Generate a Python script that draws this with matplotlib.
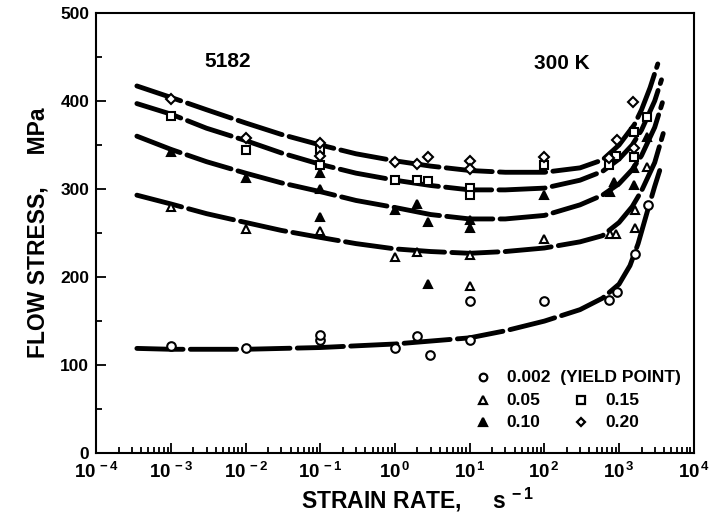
import matplotlib
matplotlib.use("Agg")
import matplotlib.pyplot as plt
from matplotlib.ticker import LogLocator, MultipleLocator, FixedLocator, NullFormatter

plt.rcParams['font.family'] = ['Liberation Sans', 'DejaVu Sans']
plt.rcParams['font.weight'] = 'bold'
plt.rcParams['mathtext.fontset'] = 'custom'
plt.rcParams['mathtext.rm'] = 'Liberation Sans:bold'
plt.rcParams['mathtext.it'] = 'Liberation Sans:bold'
plt.rcParams['mathtext.bf'] = 'Liberation Sans:bold'
plt.rcParams['mathtext.default'] = 'rm'

# ---------------- data ----------------
# measured points
circ_x = [1e-3, 1e-2, 1e-1, 1e-1, 1.0, 2.0, 2.9, 10, 10, 100, 730, 930, 1620, 2430]
circ_y = [122, 119, 129, 134, 120, 133, 111, 129, 173, 173, 174, 183, 226, 282]

tri05_x = [1e-3, 1e-2, 1e-1, 1.0, 2.0, 10, 10, 100, 750, 900, 1620, 1620, 2400]
tri05_y = [280, 255, 252, 223, 228, 225, 190, 243, 249, 249, 276, 256, 325]

tri10_x = [1e-3, 1e-2, 1e-1, 1e-1, 1e-1, 1.0, 2.0, 2.8, 2.8, 10, 10, 100, 750, 850, 1600, 1600, 2400]
tri10_y = [342, 312, 300, 318, 268, 276, 283, 192, 262, 265, 256, 293, 297, 308, 305, 324, 359]

sq_x = [1e-3, 1e-2, 1e-1, 1e-1, 1.0, 2.0, 2.8, 10, 10, 100, 730, 900, 1600, 1600, 2400]
sq_y = [383, 344, 345, 327, 310, 310, 309, 301, 293, 327, 327, 338, 336, 365, 382]

dia_x = [1e-3, 1e-2, 1e-1, 1e-1, 1.0, 2.0, 2.8, 10, 10, 100, 730, 930, 1550, 1600]
dia_y = [402, 358, 352, 338, 331, 328, 336, 332, 323, 336, 335, 356, 399, 347]

# fitted curves
c002_x = [3.5e-4, 1e-3, 1e-2, 1e-1, 1, 10, 30, 100, 300, 600, 1000, 1400, 1800, 2400, 3000, 3500]
c002_y = [119, 118, 118, 120, 124, 131, 139, 150, 163, 176, 192, 213, 238, 275, 303, 321]

c05_x = [3.5e-4, 1e-3, 3e-3, 1e-2, 3e-2, 1e-1, 0.3, 1, 3, 10, 30, 100, 300, 600, 1000, 1500, 2000, 3000, 3900]
c05_y = [293, 283, 272, 262, 253, 245, 238, 232, 229, 227, 229, 233, 240, 247, 262, 280, 298, 330, 363]

c10_x = [3.5e-4, 1e-3, 3e-3, 1e-2, 3e-2, 1e-1, 0.3, 1, 3, 10, 30, 100, 300, 600, 1000, 1500, 2000, 3000, 3800]
c10_y = [360, 345, 331, 318, 307, 297, 287, 279, 271, 266, 266, 270, 282, 293, 306, 322, 338, 370, 398]

c15_x = [3.5e-4, 1e-3, 3e-3, 1e-2, 3e-2, 1e-1, 0.3, 1, 3, 10, 30, 100, 300, 600, 1000, 1500, 2000, 3000, 3700]
c15_y = [397, 385, 369, 355, 341, 328, 318, 310, 304, 299, 299, 301, 310, 320, 334, 350, 367, 400, 424]

c20_x = [3.5e-4, 1e-3, 3e-3, 1e-2, 3e-2, 1e-1, 0.3, 1, 3, 10, 30, 100, 300, 600, 1000, 1600, 2000, 2600, 3300]
c20_y = [417, 404, 390, 375, 362, 350, 340, 332, 326, 321, 319, 319, 324, 333, 350, 373, 390, 415, 442]

x_ticks = [1e-4, 1e-3, 1e-2, 1e-1, 1e0, 1e1, 1e2, 1e3, 1e4]
x_tick_labels = [r'10$^{\,-4}$', r'10$^{\,-3}$', r'10$^{\,-2}$', r'10$^{\,-1}$', r'10$^{\,0}$',
                 r'10$^{\,1}$', r'10$^{\,2}$', r'10$^{\,3}$', r'10$^{\,4}$']
y_ticks = [0, 100, 200, 300, 400, 500]

# ---------------- figure ----------------
fig = plt.figure(figsize=(7.13, 5.15), dpi=100)
ax = fig.add_axes([0.135, 0.120, 0.838, 0.855])

line_kw = dict(color='black', lw=3.5, dashes=(9.5, 1.5), dash_capstyle='round', solid_capstyle='round')
for cx, cy in [(c002_x, c002_y), (c05_x, c05_y), (c10_x, c10_y), (c15_x, c15_y), (c20_x, c20_y)]:
    ax.plot(cx, cy, **line_kw, zorder=2)

mk = dict(linestyle='none', markeredgecolor='black', markeredgewidth=1.5, zorder=3)
ax.plot(circ_x, circ_y, marker='o', markersize=6.2, markerfacecolor='white', **mk)
ax.plot(tri05_x, tri05_y, marker='^', markersize=6.2, markerfacecolor='white', **mk)
ax.plot(tri10_x, tri10_y, marker='^', markersize=6.2, markerfacecolor='black', **mk)
ax.plot(sq_x, sq_y, marker='s', markersize=5.8, markerfacecolor='white', **mk)
ax.plot(dia_x, dia_y, marker='D', markersize=4.6, markerfacecolor='white', **mk)

ax.set_xscale('log')
ax.set_xlim(1e-4, 1e4)
ax.set_ylim(0, 500)

ax.xaxis.set_major_locator(FixedLocator(x_ticks))
ax.set_xticklabels(x_tick_labels)
ax.xaxis.set_minor_locator(LogLocator(base=10, subs=range(2, 10), numticks=20))
ax.xaxis.set_minor_formatter(NullFormatter())
ax.set_yticks(y_ticks)
ax.yaxis.set_minor_locator(MultipleLocator(50))

ax.tick_params(axis='both', which='both', direction='in', top=False, right=False, width=1.3)
ax.tick_params(axis='both', which='major', length=7, labelsize=13.5, pad=6)
ax.tick_params(axis='both', which='minor', length=4)
ax.tick_params(axis='y', which='major', labelsize=12.5, pad=5)
for lab in ax.get_xticklabels() + ax.get_yticklabels():
    lab.set_fontweight('bold')
for s in ax.spines.values():
    s.set_linewidth(1.5)

ax.set_xlabel('STRAIN RATE,     s$^{\,-1}$', fontsize=16.5, fontweight='bold')
ax.xaxis.set_label_coords(0.537, -0.075)
ax.set_ylabel('FLOW STRESS,     MPa', fontsize=16.5, fontweight='bold', labelpad=8)

ax.text(0.22, 0.89, '5182', transform=ax.transAxes, fontsize=15, fontweight='bold',
        ha='center', va='center')
ax.text(0.78, 0.885, '300 K', transform=ax.transAxes, fontsize=15, fontweight='bold',
        ha='center', va='center')

# legend (manual layout as in the original)
leg_rows = [
    (0.647, 0.172, 'o', 'white', '0.002  (YIELD POINT)'),
    (0.647, 0.120, '^', 'white', '0.05'),
    (0.647, 0.070, '^', 'black', '0.10'),
    (0.812, 0.120, 's', 'white', '0.15'),
    (0.812, 0.070, 'D', 'white', '0.20'),
]
for xm, ym, m, fc, lab in leg_rows:
    ax.plot([xm], [ym], marker=m, markersize=5.5 if m != 'D' else 4.2, markerfacecolor=fc,
            markeredgecolor='black', markeredgewidth=1.6, linestyle='none',
            transform=ax.transAxes, zorder=4)
    ax.text(xm + 0.04, ym, lab, transform=ax.transAxes, fontsize=12.5, fontweight='bold',
            ha='left', va='center')

fig.savefig('out.png', dpi=100)
